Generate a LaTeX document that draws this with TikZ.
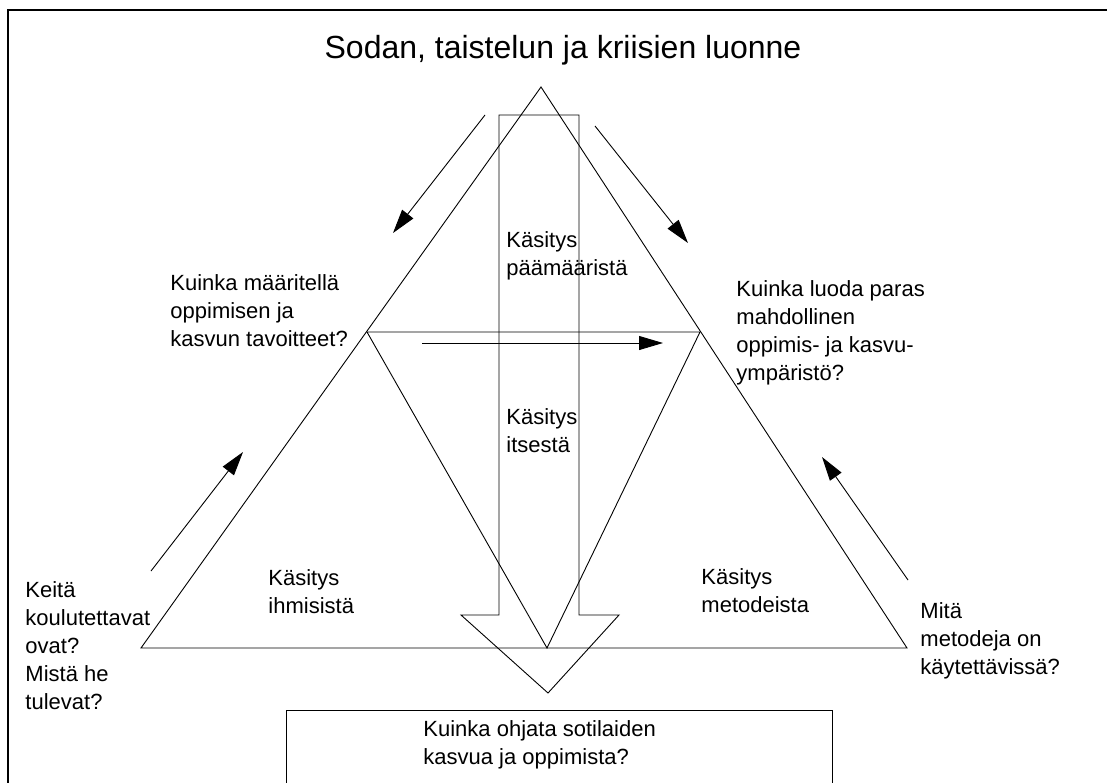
\documentclass[tikz,border=0pt]{standalone}
\usepackage{fontspec}
\setmainfont{Liberation Sans}
\usetikzlibrary{arrows.meta}
\begin{document}
\begin{tikzpicture}[x=1pt, y=-1pt, line width=0.9pt, line join=miter,
  lbl/.style={font=\fontsize{22}{28}\selectfont, align=left, inner sep=0pt, anchor=north west},
  ttl/.style={font=\fontsize{32}{38}\selectfont, inner sep=0pt},
  flow/.style={-{Triangle[length=24pt,width=14pt]}},
  frame/.style={line width=1.4pt}]
\useasboundingbox (0,0) rectangle (1107,782);

% page frame (left and top edges)
\draw[frame] (8,790) -- (8,10) -- (1115,10);

% outer triangle
\coordinate (apex) at (541,87);
\coordinate (bl) at (141,648);
\coordinate (br) at (907,648);
\draw (apex) -- (bl) -- (br) -- cycle;

% inner inverted triangle
\coordinate (il) at (367,332);
\coordinate (ir) at (700,332);
\coordinate (ib) at (547,648);
\draw (il) -- (ir) -- (ib) -- cycle;

% wide downward block arrow
\draw (499,115) -- (579,115) -- (579,615) -- (619,615) -- (548,693)
      -- (461,615) -- (499,615) -- cycle;

% bottom box
\draw (286,800) -- (286,710) -- (832,710) -- (832,800);

% thin arrows
\coordinate (a1s) at (485,115); \coordinate (a1e) at (393,233);
\coordinate (a2s) at (595,126); \coordinate (a2e) at (688,243);
\coordinate (a3s) at (422,343); \coordinate (a3e) at (663,343);
\coordinate (a4s) at (151,571); \coordinate (a4e) at (243,452);
\coordinate (a5s) at (908,580); \coordinate (a5e) at (822,457);
\draw[flow] (a1s) -- (a1e);
\draw[flow] (a2s) -- (a2e);
\draw[flow] (a3s) -- (a3e);
\draw[flow] (a4s) -- (a4e);
\draw[flow] (a5s) -- (a5e);

% texts
\node[ttl] (title) at (563,50) {Sodan, taistelun ja kriisien luonne};
\node[lbl] (goals) at (506,227) {\strut Käsitys\\päämääristä};
\node[lbl] (qgoals) at (170,270) {\strut Kuinka määritellä\\oppimisen ja\\kasvun tavoitteet?};
\node[lbl] (qenv) at (736,276) {\strut Kuinka luoda paras\\mahdollinen\\oppimis- ja kasvu-\\ympäristö?};
\node[lbl] (self) at (506,404) {\strut Käsitys\\itsestä};
\node[lbl] (people) at (268,565) {\strut Käsitys\\ihmisistä};
\node[lbl] (methods) at (701,564) {\strut Käsitys\\metodeista};
\node[lbl] (qpeople) at (25,577) {\strut Keitä\\koulutettavat\\ovat?\\Mistä he\\tulevat?};
\node[lbl] (qmethods) at (920,598) {\strut Mitä\\metodeja on\\käytettävissä?};
\node[lbl] (qguide) at (423,716) {\strut Kuinka ohjata sotilaiden\\kasvua ja oppimista?};
\end{tikzpicture}
\end{document}
